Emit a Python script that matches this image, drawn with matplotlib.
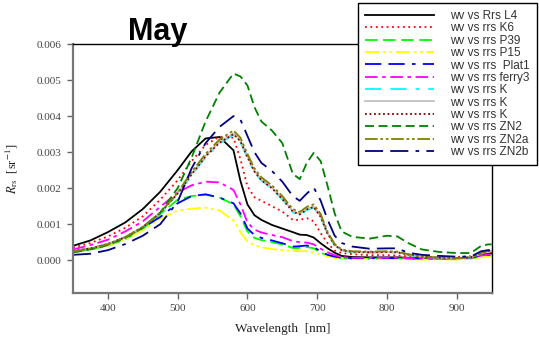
import numpy as np
import matplotlib
matplotlib.use("Agg")
from matplotlib import pyplot as plt

plt.rcParams['mathtext.fontset'] = 'stix'

# wavelength grid [nm]
wl = [350, 375, 400, 425, 450, 475, 500, 520, 540, 560, 580, 590, 600, 610,
      620, 635, 650, 665, 675, 685, 695, 705, 715, 725, 735, 750, 775, 800,
      815, 830, 850, 875, 900, 920, 935, 945, 950]

# remote sensing reflectance, units of 1e-3 sr^-1
rrs_L4 = [0.40, 0.55, 0.78, 1.05, 1.42, 1.90, 2.50, 3.02, 3.38, 3.42, 3.05, 2.20,
          1.55, 1.25, 1.12, 0.98, 0.88, 0.78, 0.71, 0.70, 0.63, 0.47, 0.33, 0.21,
          0.12, 0.09, 0.08, 0.08, 0.08, 0.07, 0.06, 0.05, 0.05, 0.07, 0.14, 0.18, 0.19]
rrs_K6 = [0.35, 0.48, 0.66, 0.90, 1.22, 1.68, 2.22, 2.75, 3.20, 3.43, 3.40, 2.80,
          2.05, 1.75, 1.65, 1.50, 1.35, 1.12, 1.12, 1.17, 1.08, 0.75, 0.47, 0.27,
          0.20, 0.17, 0.14, 0.14, 0.13, 0.11, 0.10, 0.09, 0.09, 0.11, 0.18, 0.21, 0.21]
rrs_P39 = [0.22, 0.30, 0.40, 0.58, 0.87, 1.28, 1.68, 1.78, 1.82, 1.74, 1.55, 1.22,
           0.80, 0.62, 0.56, 0.50, 0.44, 0.34, 0.34, 0.37, 0.33, 0.21, 0.13, 0.08,
           0.05, 0.04, 0.04, 0.05, 0.05, 0.04, 0.04, 0.04, 0.04, 0.05, 0.10, 0.13, 0.13]
rrs_P15 = [0.24, 0.31, 0.41, 0.58, 0.83, 1.15, 1.38, 1.43, 1.46, 1.38, 1.10, 0.78,
           0.52, 0.42, 0.36, 0.31, 0.28, 0.26, 0.25, 0.25, 0.22, 0.16, 0.11, 0.07,
           0.04, 0.03, 0.03, 0.03, 0.03, 0.02, 0.02, 0.02, 0.02, 0.04, 0.08, 0.11, 0.12]
rrs_Plat1 = [0.25, 0.33, 0.45, 0.64, 0.90, 1.20, 1.58, 1.78, 1.83, 1.74, 1.58, 1.30,
             0.88, 0.70, 0.62, 0.55, 0.47, 0.38, 0.39, 0.41, 0.37, 0.24, 0.15, 0.10,
             0.07, 0.06, 0.06, 0.06, 0.06, 0.05, 0.05, 0.05, 0.05, 0.07, 0.13, 0.15, 0.15]
rrs_ferry3 = [0.30, 0.42, 0.57, 0.80, 1.08, 1.48, 1.88, 2.08, 2.18, 2.16, 1.95, 1.55,
              1.05, 0.85, 0.77, 0.70, 0.64, 0.53, 0.50, 0.49, 0.44, 0.32, 0.22, 0.14,
              0.09, 0.07, 0.07, 0.07, 0.07, 0.06, 0.05, 0.05, 0.05, 0.07, 0.13, 0.16, 0.16]
rrs_K_a = [0.24, 0.32, 0.44, 0.63, 0.91, 1.30, 1.83, 2.36, 2.86, 3.24, 3.48, 3.28,
           2.84, 2.45, 2.21, 1.99, 1.69, 1.33, 1.25, 1.39, 1.46, 1.19, 0.72, 0.41,
           0.27, 0.22, 0.21, 0.22, 0.21, 0.15, 0.09, 0.07, 0.06, 0.08, 0.18, 0.24, 0.25]
rrs_K_b = [0.25, 0.33, 0.45, 0.65, 0.93, 1.33, 1.86, 2.40, 2.90, 3.28, 3.52, 3.32,
           2.88, 2.48, 2.24, 2.02, 1.72, 1.36, 1.28, 1.42, 1.49, 1.22, 0.74, 0.42,
           0.28, 0.23, 0.22, 0.23, 0.22, 0.16, 0.10, 0.07, 0.06, 0.08, 0.19, 0.25, 0.26]
rrs_K_c = [0.25, 0.33, 0.45, 0.64, 0.92, 1.31, 1.85, 2.38, 2.88, 3.26, 3.50, 3.30,
           2.86, 2.46, 2.22, 2.00, 1.70, 1.35, 1.27, 1.41, 1.48, 1.20, 0.73, 0.42,
           0.28, 0.23, 0.22, 0.23, 0.22, 0.16, 0.10, 0.07, 0.06, 0.08, 0.19, 0.25, 0.26]
rrs_ZN2 = [0.22, 0.30, 0.42, 0.62, 0.90, 1.32, 2.00, 2.85, 3.85, 4.65, 5.18, 5.10,
           4.85, 4.25, 3.85, 3.60, 3.25, 2.40, 2.25, 2.70, 2.98, 2.75, 2.05, 1.30,
           0.80, 0.65, 0.60, 0.68, 0.66, 0.48, 0.30, 0.23, 0.20, 0.20, 0.40, 0.44, 0.44]
rrs_ZN2a = [0.24, 0.32, 0.44, 0.64, 0.92, 1.32, 1.88, 2.45, 2.95, 3.35, 3.60, 3.40,
            2.95, 2.55, 2.30, 2.08, 1.78, 1.42, 1.34, 1.48, 1.55, 1.28, 0.78, 0.45,
            0.30, 0.25, 0.24, 0.25, 0.24, 0.17, 0.10, 0.07, 0.06, 0.08, 0.20, 0.27, 0.28]
rrs_ZN2b = [0.15, 0.18, 0.28, 0.45, 0.68, 1.00, 1.62, 2.55, 3.25, 3.70, 4.00, 3.90,
            3.45, 3.00, 2.70, 2.48, 2.18, 1.78, 1.65, 1.85, 2.02, 1.65, 1.12, 0.68,
            0.48, 0.38, 0.32, 0.33, 0.33, 0.21, 0.15, 0.12, 0.10, 0.10, 0.25, 0.28, 0.27]

labels = ['wv vs Rrs L4', 'wv vs rrs K6', 'wv vs rrs P39', 'wv vs rrs P15',
          'wv vs rrs  Plat1', 'wv vs rrs ferry3', 'wv vs rrs K', 'wv vs rrs K',
          'wv vs rrs K', 'wv vs rrs ZN2', 'wv vs rrs ZN2a', 'wv vs rrs ZN2b']
series = [rrs_L4, rrs_K6, rrs_P39, rrs_P15, rrs_Plat1, rrs_ferry3,
          rrs_K_a, rrs_K_b, rrs_K_c, rrs_ZN2, rrs_ZN2a, rrs_ZN2b]

styles = [
    ('#000000', '-'),
    ('#ff0000', (0, (1, 2))),
    ('#00ff00', (0, (7, 3))),
    ('#ffff00', (0, (8, 2, 1.5, 2, 1.5, 2))),
    ('#0000ff', (0, (9, 4, 9, 4, 2, 4))),
    ('#ff00ff', (0, (7, 2.5, 2, 2.5))),
    ('#00ffff', (0, (9, 5, 9, 5, 2, 5))),
    ('#c0c0c0', '-'),
    ('#800000', (0, (1, 1.5))),
    ('#008000', (0, (5, 2.5))),
    ('#808000', (0, (7, 1.5, 1.5, 1.5, 1.5, 1.5))),
    ('#000080', (0, (10, 4, 10, 4, 2, 4))),
]

fig = plt.figure(figsize=(5.39, 3.37), dpi=100)
ax = fig.add_axes([0.1354, 0.1315, 0.7768, 0.7379])

x = np.array(wl)
for vals, lab, (col, ls) in zip(series, labels, styles):
    ax.plot(x, np.array(vals) * 1e-3, color=col, linestyle=ls, linewidth=1.3,
            label=lab)

ax.set_xlim(350, 950)
ax.set_ylim(-0.0009, 0.006)
ax.set_xticks([400, 500, 600, 700, 800, 900])
ax.set_yticks([0.0, 0.001, 0.002, 0.003, 0.004, 0.005, 0.006])
ax.set_yticklabels(['0.000', '0.001', '0.002', '0.003', '0.004', '0.005', '0.006'])

serif = 'Liberation Serif'
for lab in ax.get_xticklabels() + ax.get_yticklabels():
    lab.set_fontfamily(serif)
    lab.set_fontsize(8)
    lab.set_color('#444444')
ax.tick_params(direction='out', length=4, width=1, color='#666666', pad=4)

ax.spines['left'].set_color('#777777')
ax.spines['bottom'].set_color('#777777')
ax.spines['left'].set_linewidth(1.6)
ax.spines['bottom'].set_linewidth(1.6)
ax.spines['top'].set_linewidth(1.0)
ax.spines['right'].set_linewidth(1.0)

ax.set_xlabel('Wavelength  [nm]', family=serif, fontsize=9.5, color='#222222',
              labelpad=7)
ax.set_ylabel(r'$R_{\rm rs}$  [sr$^{-1}$]', family=serif, fontsize=9,
              color='#222222', labelpad=12)

fig.text(0.292, 0.881, 'May', family='Liberation Sans', fontweight='bold',
         fontsize=22, ha='center', va='baseline')

leg = ax.legend(loc='upper right', bbox_to_anchor=(0.9963, 0.991),
                bbox_transform=fig.transFigure, borderaxespad=0,
                prop={'family': 'Liberation Sans', 'size': 8.5},
                handlelength=5.85, handletextpad=1.35, labelspacing=0.03,
                borderpad=0.6, fancybox=False, framealpha=1, edgecolor='black')
leg.get_frame().set_linewidth(1.0)
for t in leg.get_texts():
    t.set_color('#333333')

fig.savefig('out.png', dpi=100)
